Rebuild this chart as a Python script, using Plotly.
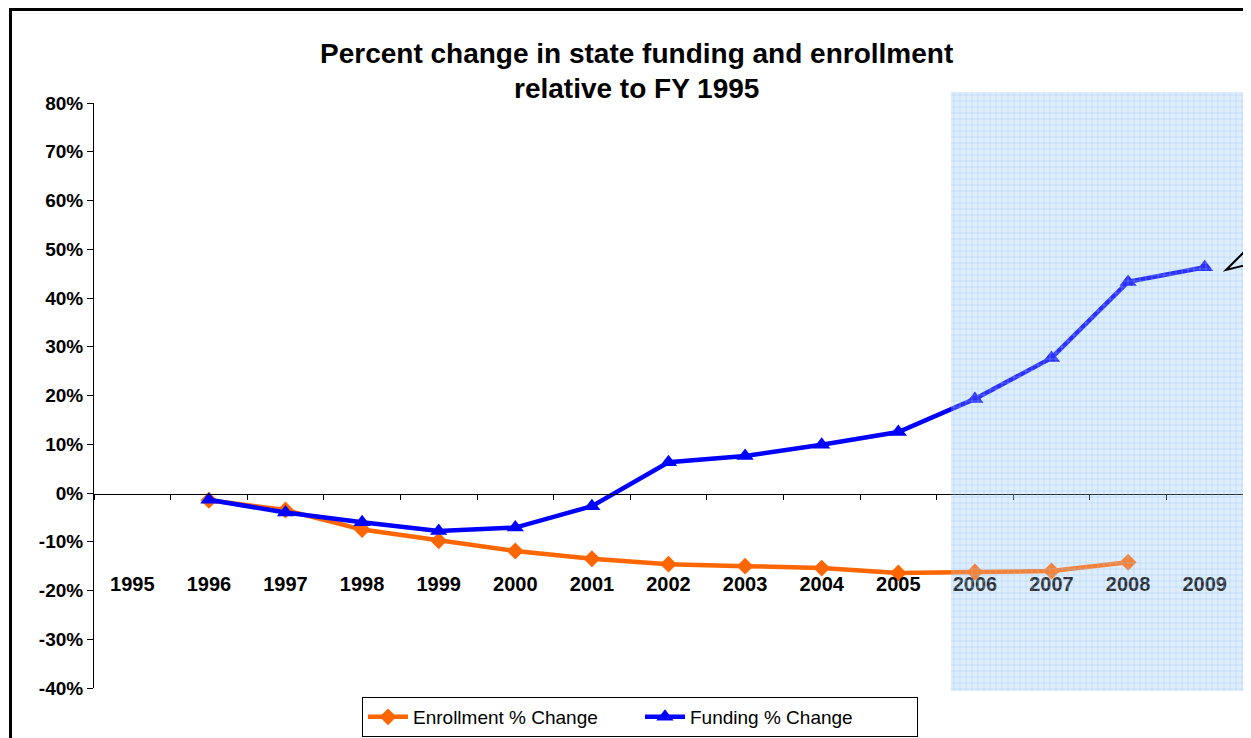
import plotly.graph_objects as go

# ---- data ----
years = ["1995", "1996", "1997", "1998", "1999", "2000", "2001", "2002",
         "2003", "2004", "2005", "2006", "2007", "2008", "2009"]
enrollment_pct = [None, -1.5, -3.5, -7.5, -9.8, -11.9, -13.5, -14.6,
                  -15.0, -15.4, -16.4, -16.2, -16.0, -14.2, None]
funding_pct = [None, -1.4, -4.0, -6.0, -7.8, -7.1, -2.7, 6.3,
               7.6, 9.9, 12.5, 19.3, 27.7, 43.3, 46.3]
y_ticks = [-40, -30, -20, -10, 0, 10, 20, 30, 40, 50, 60, 70, 80]
y_tick_labels = [f"{v}%" for v in y_ticks]

enrollment = [None if v is None else v / 100 for v in enrollment_pct]
funding = [None if v is None else v / 100 for v in funding_pct]

# page offset (html body margin)
OX, OY = 8, 8
W, H = 1251 - OX, 738 - OY
L, R, T, B = 94 - OX, 8, 103 - OY, 50
PW, PH = W - L - R, H - T - B


def px(x):
    """page pixel x -> paper x"""
    return (x - OX - L) / PW


def py(y):
    """page pixel y -> paper y"""
    return (H - B - (y - OY)) / PH


FONT = "Arial, Liberation Sans, sans-serif"

fig = go.Figure()
fig.add_trace(go.Scatter(
    x=years, y=enrollment, name="Enrollment % Change", mode="lines+markers",
    line=dict(color="#FF6600", width=4.5),
    marker=dict(symbol="diamond", size=13, color="#FF6600"),
    connectgaps=False,
))
fig.add_trace(go.Scatter(
    x=years, y=funding, name="Funding % Change", mode="lines+markers",
    line=dict(color="#0000FF", width=4.5),
    marker=dict(symbol="triangle-up", size=15, color="#0000FF"),
))

shapes = []
# shaded forecast region (background)
sx0, sx1, sy0, sy1 = 951, 1243, 92, 691
shapes.append(dict(type="rect", xref="paper", yref="paper",
                   x0=px(sx0), x1=px(sx1), y0=py(sy1), y1=py(sy0),
                   fillcolor="#e2effd", line=dict(width=0), layer="below"))
# overlay to fade lines inside
shapes.append(dict(type="rect", xref="paper", yref="paper",
                   x0=px(sx0), x1=px(sx1), y0=py(sy1), y1=py(sy0),
                   fillcolor="rgba(215,234,253,0.20)", line=dict(width=0), layer="above"))
# grid texture
step = 6
gx = sx0 + 3
while gx < sx1:
    shapes.append(dict(type="line", xref="paper", yref="paper",
                       x0=px(gx), x1=px(gx), y0=py(sy1), y1=py(sy0),
                       line=dict(color="rgba(150,195,245,0.35)", width=1), layer="above"))
    gx += step
gy = sy0 + 3
while gy < sy1:
    shapes.append(dict(type="line", xref="paper", yref="paper",
                       x0=px(sx0), x1=px(sx1), y0=py(gy), y1=py(gy),
                       line=dict(color="rgba(150,195,245,0.35)", width=1), layer="above"))
    gy += step

# callout pointer
shapes.append(dict(type="path", xref="paper", yref="paper",
                   path=f"M {px(1262)},{py(234)} L {px(1226)},{py(270)} L {px(1262)},{py(261)}",
                   line=dict(color="black", width=2)))
# outer frame (top and left)
shapes.append(dict(type="path", xref="paper", yref="paper",
                   path=f"M {px(10.5)},{py(760)} L {px(10.5)},{py(9.5)} L {px(1270)},{py(9.5)}",
                   line=dict(color="black", width=3)))

fig.update_layout(
    width=W, height=H,
    margin=dict(l=L, r=R, t=T, b=B, pad=0, autoexpand=False),
    paper_bgcolor="white", plot_bgcolor="rgba(0,0,0,0)",
    font=dict(family=FONT, color="black"),
    showlegend=True,
    legend=dict(orientation="h", x=px(362), xanchor="left", y=py(697), yanchor="top",
                bordercolor="black", borderwidth=1, bgcolor="white",
                font=dict(family=FONT, size=19, color="black"),
                itemwidth=40, entrywidth=222, entrywidthmode="pixels", tracegroupgap=0),
    shapes=shapes,
    annotations=[
        dict(text="<b>Percent change in state funding and enrollment</b>",
             xref="paper", yref="paper", x=px(636), y=py(53), showarrow=False,
             xanchor="center", yanchor="middle", font=dict(family=FONT, size=28)),
        dict(text="<b>relative to FY 1995</b>",
             xref="paper", yref="paper", x=px(636), y=py(88), showarrow=False,
             xanchor="center", yanchor="middle", font=dict(family=FONT, size=28)),
    ],
    xaxis=dict(type="category", categoryorder="array", categoryarray=years,
               range=[-0.5, len(years) - 0.5], anchor="free", position=py(494),
               showline=True, linecolor="black", linewidth=1,
               ticks="outside", tickson="boundaries", ticklen=5, tickcolor="black",
               showgrid=False, zeroline=False, ticklabelstandoff=72,
               tickfont=dict(family=FONT, size=20, color="black", weight="bold")),
    yaxis=dict(range=[-0.4, 0.8], tickvals=[v / 100 for v in y_ticks], ticktext=y_tick_labels,
               showline=True, linecolor="black", linewidth=1, ticks="outside",
               ticklen=6, tickcolor="black", showgrid=False, zeroline=False,
               tickfont=dict(family=FONT, size=19, color="black", weight="bold")),
)

fig.write_html("out.html")
